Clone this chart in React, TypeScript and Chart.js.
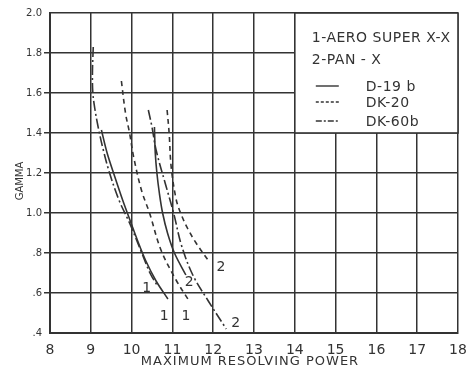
import React, { useEffect, useRef } from "react";
import { Chart, registerables } from "chart.js";

Chart.register(...registerables);

// ---- data ----
const xTicks = [8, 9, 10, 11, 12, 13, 14, 15, 16, 17, 18];
const yTicks = [0.4, 0.6, 0.8, 1.0, 1.2, 1.4, 1.6, 1.8, 2.0];
const yTickLabels = [".4", ".6", ".8", "1.0", "1.2", "1.4", "1.6", "1.8", "2.0"];

// Film 1: Aero Super X-X
const aeroD19bX = [9.26, 9.4, 9.59, 9.78, 9.95, 10.15, 10.35, 10.6, 10.89];
const aeroD19bY = [1.415, 1.3, 1.18, 1.065, 0.97, 0.86, 0.76, 0.66, 0.57];
const aeroDK20X = [9.75, 9.85, 9.95, 10.05, 10.24, 10.44, 10.72, 11.09, 11.41];
const aeroDK20Y = [1.66, 1.5, 1.4, 1.28, 1.115, 1.0, 0.815, 0.665, 0.56];
const aeroDK60bX = [9.06, 9.04, 9.05, 9.1, 9.18, 9.3, 9.46, 9.7, 9.95, 10.25, 10.45, 10.62];
const aeroDK60bY = [1.83, 1.7, 1.6, 1.52, 1.43, 1.32, 1.2, 1.06, 0.95, 0.8, 0.7, 0.64];

// Film 2: Pan-X
const panD19bX = [10.56, 10.58, 10.62, 10.68, 10.76, 10.88, 11.05, 11.33];
const panD19bY = [1.43, 1.3, 1.2, 1.1, 1.0, 0.9, 0.8, 0.69];
const panDK20X = [10.87, 10.92, 10.97, 11.09, 11.2, 11.38, 11.58, 11.9];
const panDK20Y = [1.515, 1.4, 1.23, 1.07, 1.0, 0.92, 0.85, 0.757];
const panDK60bX = [10.41, 10.5, 10.6, 10.85, 11.03, 11.22, 11.5, 11.88, 12.32];
const panDK60bY = [1.515, 1.43, 1.315, 1.13, 1.0, 0.84, 0.69, 0.56, 0.42];

// curve annotations
const curveLabelTexts = ["1", "1", "1", "2", "2", "2"];
const curveLabelX = [10.37, 10.8, 11.33, 11.41, 12.19, 12.55];
const curveLabelY = [0.625, 0.485, 0.485, 0.655, 0.73, 0.45];

// legend
const legendFilms = ["1-AERO SUPER X-X", "2-PAN - X"];
const legendDevelopers = ["D-19 b", "DK-20", "DK-60b"];

const INK = "#333333";
const FONT = "DejaVu Sans, sans-serif";
const dashSolid: number[] = [];
const dashDK20 = [5, 4];
const dashDK60b = [10, 3, 2, 3];
const legendDashes = [dashSolid, [3, 2], [6, 2, 2, 2]];

const toPts = (xs: number[], ys: number[]) => xs.map((x, i) => ({ x, y: ys[i] }));

const series = [
  { label: "Aero D-19b", xs: aeroD19bX, ys: aeroD19bY, dash: dashSolid },
  { label: "Aero DK-20", xs: aeroDK20X, ys: aeroDK20Y, dash: dashDK20 },
  { label: "Aero DK-60b", xs: aeroDK60bX, ys: aeroDK60bY, dash: dashDK60b },
  { label: "Pan-X D-19b", xs: panD19bX, ys: panD19bY, dash: dashSolid },
  { label: "Pan-X DK-20", xs: panDK20X, ys: panDK20Y, dash: dashDK20 },
  { label: "Pan-X DK-60b", xs: panDK60bX, ys: panDK60bY, dash: dashDK60b },
];

const overlayPlugin = {
  id: "overlay",
  beforeDatasetsDraw(chart: any) {
    const { ctx, scales } = chart;
    const xs = scales.x;
    const ys = scales.y;
    // legend box
    const l = xs.getPixelForValue(14);
    const r = xs.getPixelForValue(18);
    const t = ys.getPixelForValue(2.0);
    const b = ys.getPixelForValue(1.4);
    ctx.save();
    ctx.fillStyle = "#ffffff";
    ctx.fillRect(l, t, r - l, b - t);
    ctx.strokeStyle = INK;
    ctx.lineWidth = 1.6;
    ctx.strokeRect(l, t, r - l, b - t);

    ctx.fillStyle = INK;
    ctx.textBaseline = "middle";
    ctx.textAlign = "left";
    ctx.font = `14px ${FONT}`;
    (ctx as any).letterSpacing = "0.5px";
    ctx.fillText(legendFilms[0], l + 17, t + 25);
    ctx.fillText(legendFilms[1], l + 17, t + 47);
    const rowOffsets = [73, 89, 108];
    legendDevelopers.forEach((name, i) => {
      const yy = t + rowOffsets[i];
      ctx.beginPath();
      ctx.setLineDash(legendDashes[i]);
      ctx.lineWidth = 1.4;
      ctx.moveTo(l + 21, yy);
      ctx.lineTo(l + 44, yy);
      ctx.stroke();
      ctx.setLineDash([]);
      ctx.fillText(name, l + 71, yy + 1);
    });
    ctx.restore();
  },
  afterDraw(chart: any) {
    const { ctx, scales, chartArea } = chart;
    const xs = scales.x;
    const ys = scales.y;
    ctx.save();
    ctx.fillStyle = INK;
    ctx.textAlign = "center";
    ctx.textBaseline = "middle";
    ctx.font = `14px ${FONT}`;
    curveLabelTexts.forEach((txt, i) => {
      ctx.fillText(txt, xs.getPixelForValue(curveLabelX[i]), ys.getPixelForValue(curveLabelY[i]));
    });
    // axis titles
    ctx.font = `13px ${FONT}`;
    (ctx as any).letterSpacing = "1px";
    ctx.fillText("MAXIMUM RESOLVING POWER", (chartArea.left + chartArea.right) / 2 - 4, 362);
    ctx.font = `10px ${FONT}`;
    (ctx as any).letterSpacing = "0px";
    ctx.translate(20, (chartArea.top + chartArea.bottom) / 2 + 8);
    ctx.rotate(-Math.PI / 2);
    ctx.fillText("GAMMA", 0, 0);
    ctx.restore();
  },
};

export default function App() {
  const ref = useRef<HTMLCanvasElement | null>(null);
  useEffect(() => {
    if (!ref.current) return;
    const lastY = yTicks.length - 1;
    const chart = new Chart(ref.current, {
      type: "scatter",
      data: {
        datasets: series.map((s) => ({
          label: s.label,
          data: toPts(s.xs, s.ys),
          showLine: true,
          borderColor: INK,
          borderWidth: 1.6,
          borderDash: s.dash,
          pointRadius: 0,
          tension: 0.35,
          fill: false,
        })),
      },
      options: {
        animation: false,
        responsive: false,
        devicePixelRatio: 1,
        layout: { padding: { left: 0, right: 8, top: 13, bottom: 0 } },
        plugins: {
          legend: { display: false },
          tooltip: { enabled: false },
        },
        scales: {
          x: {
            type: "linear",
            min: 8,
            max: 18,
            afterBuildTicks: (scale: any) => {
              scale.ticks = xTicks.map((v) => ({ value: v }));
            },
            afterFit: (scale: any) => {
              scale.height = 41;
              scale.paddingLeft = 0;
              scale.paddingRight = 0;
            },
            grid: { color: INK, lineWidth: 1.5, drawTicks: false },
            border: { display: true, color: INK, width: 2 },
            ticks: {
              color: INK,
              font: { family: FONT, size: 14 },
              padding: 9,
              maxRotation: 0,
              autoSkip: false,
              callback: (v: any) => String(v),
            },
          },
          y: {
            type: "linear",
            min: 0.4,
            max: 2.0,
            afterBuildTicks: (scale: any) => {
              scale.ticks = yTicks.map((v) => ({ value: v }));
            },
            afterFit: (scale: any) => {
              scale.width = 50;
            },
            grid: {
              color: INK,
              lineWidth: 1.5,
              drawTicks: true,
              tickLength: 6,
              tickColor: (ctx: any) =>
                ctx.index === 0 || ctx.index === lastY ? "rgba(0,0,0,0)" : INK,
            },
            border: { display: true, color: INK, width: 2 },
            ticks: {
              color: INK,
              font: { family: FONT, size: 10 },
              padding: 2,
              autoSkip: false,
              callback: (v: any) => {
                const i = yTicks.findIndex((t) => Math.abs(t - Number(v)) < 1e-6);
                return i >= 0 ? yTickLabels[i] : "";
              },
            },
          },
        },
      },
      plugins: [overlayPlugin],
    } as any);
    return () => chart.destroy();
  }, []);

  return (
    <div style={{ position: "absolute", left: 0, top: 0, width: 466, height: 374, background: "#fff" }}>
      <canvas ref={ref} width={466} height={374} />
    </div>
  );
}
